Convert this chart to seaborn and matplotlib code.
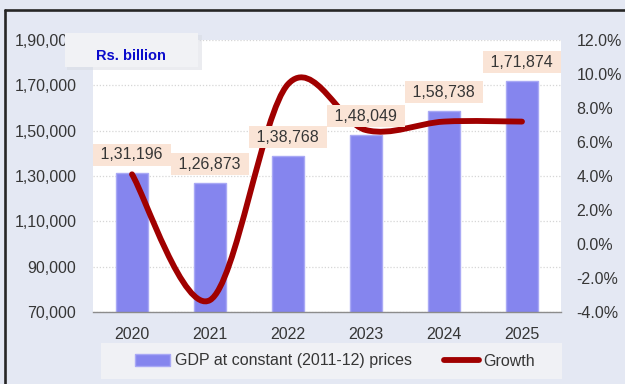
import numpy as np
import pandas as pd
import matplotlib
matplotlib.use("Agg")
import matplotlib.pyplot as plt
from matplotlib.patches import Rectangle, Patch, PathPatch
from matplotlib.lines import Line2D
from matplotlib.path import Path
import seaborn as sns

# ---- data ----
years = ["2020", "2021", "2022", "2023", "2024", "2025"]
gdp = [131196, 126873, 138768, 148049, 158738, 171874]
growth = [4.1, -3.3, 9.4, 6.7, 7.2, 7.2]
left_ticks = [70000, 90000, 110000, 130000, 150000, 170000, 190000]
right_ticks = [-4, -2, 0, 2, 4, 6, 8, 10, 12]
bar_label = "GDP at constant (2011-12) prices"
line_label = "Growth"
unit_label = "Rs. billion"

BG = "#E4E8F3"
BAR = "#8585EE"
LINE = "#A00000"
LABEL_BOX = "#FAE4D6"
TXT = "#363636"

sns.set_theme(style="white")
plt.rcParams["font.family"] = ["Liberation Sans", "DejaVu Sans"]


def indian(n):
    s = str(int(n))
    if len(s) <= 3:
        return s
    last3, rest = s[-3:], s[:-3]
    groups = []
    while len(rest) > 2:
        groups.insert(0, rest[-2:])
        rest = rest[:-2]
    if rest:
        groups.insert(0, rest)
    return ",".join(groups + [last3])


df = pd.DataFrame({"year": years, "gdp": gdp, "growth": growth})

W, H = 625, 384
fig = plt.figure(figsize=(W / 100, H / 100), dpi=100)
fig.patch.set_facecolor(BG)

ax = fig.add_axes([93 / W, 1 - 312 / H, 468 / W, 272 / H])
ax.set_facecolor("white")
sns.barplot(data=df, x="year", y="gdp", ax=ax, color=BAR, saturation=1,
            width=0.41, edgecolor="#A9A9F5", linewidth=1.0, zorder=2)
ax.set_xlim(-0.5, len(years) - 0.5)
ax.set_ylim(left_ticks[0], left_ticks[-1])
ax.set_yticks(left_ticks)
ax.set_yticklabels([indian(v) for v in left_ticks])
ax.set_xlabel("")
ax.set_ylabel("")
ax.yaxis.grid(True, linestyle=(0, (1, 1.5)), color="#d6d6d6", linewidth=0.9)
ax.xaxis.grid(False)
ax.set_axisbelow(True)
for s in ["left", "right", "top"]:
    ax.spines[s].set_visible(False)
ax.spines["bottom"].set_color("#8c8c8c")
ax.spines["bottom"].set_linewidth(1.0)
ax.tick_params(axis="y", length=0, pad=12, labelsize=11.5, labelcolor=TXT)
ax.tick_params(axis="x", which="major", length=0, pad=11, labelsize=11.5, labelcolor=TXT)
ax.set_xticks(np.arange(-0.5, len(years), 1.0), minor=True)
ax.tick_params(axis="x", which="minor", length=4, width=1, color="#8c8c8c", direction="out")

# growth axis
ax2 = ax.twinx()
ax2.set_ylim(right_ticks[0], right_ticks[-1])
ax2.set_yticks(right_ticks)
ax2.set_yticklabels([f"{v:.1f}%" for v in right_ticks])
for s in ["left", "right", "top", "bottom"]:
    ax2.spines[s].set_visible(False)
ax2.tick_params(axis="y", length=0, pad=11, labelsize=11.5, labelcolor=TXT)
ax2.grid(False)

# smooth line (Catmull-Rom as cubic Bezier)
xs = np.arange(len(growth), dtype=float)
ys = np.array(growth, dtype=float)
P = np.column_stack([xs, ys])
Pext = np.vstack([P[0], P, P[-1]])
verts = [tuple(P[0])]
codes = [Path.MOVETO]
for i in range(len(P) - 1):
    p0, p1, p2, p3 = Pext[i], Pext[i + 1], Pext[i + 2], Pext[i + 3]
    c1 = p1 + (p2 - p0) / 6.0
    c2 = p2 - (p3 - p1) / 6.0
    verts += [tuple(c1), tuple(c2), tuple(p2)]
    codes += [Path.CURVE4] * 3
patch = PathPatch(Path(verts, codes), facecolor="none", edgecolor=LINE,
                  linewidth=4.2, capstyle="round", joinstyle="round", zorder=3)
ax2.add_patch(patch)

# data labels (on top of line)
for i, v in enumerate(gdp):
    ax2.annotate(" " + indian(v) + " ", xy=(i, v), xycoords=ax.transData,
                 xytext=(0, 13.5), textcoords="offset points",
                 ha="center", va="center", fontsize=11.5, color=TXT,
                 bbox=dict(boxstyle="square,pad=0.22", fc=LABEL_BOX, ec="none"),
                 zorder=6)

# unit box with faint shadow
fig.patches.append(Rectangle((67 / W, 1 - 70 / H), 135 / W, 35 / H, transform=fig.transFigure,
                             fc="#D8DBE3", ec="none", alpha=0.5, zorder=2))
fig.patches.append(Rectangle((65 / W, 1 - 67 / H), 133 / W, 34 / H, transform=fig.transFigure,
                             fc="#F1F2F5", ec="none", zorder=2.5))
fig.text(131 / W, 1 - 60 / H, unit_label, color="#0A0ACC", fontweight="bold",
         fontsize=10.5, ha="center", va="baseline", zorder=4)

# legend box
fig.patches.append(Rectangle((101 / W, 1 - 379 / H), 461 / W, 36 / H, transform=fig.transFigure,
                             fc="#F0F1F5", ec="none", zorder=1))
handles = [Patch(facecolor=BAR, edgecolor="#A9A9F5", label=bar_label),
           Line2D([0], [0], color=LINE, lw=4.2, solid_capstyle="round", label=line_label)]
leg = fig.legend(handles=handles, loc="center", bbox_to_anchor=(335 / W, 1 - 361 / H),
                 ncol=2, frameon=False, fontsize=11.5, handlelength=2.2,
                 handletextpad=0.3, columnspacing=2.0, labelcolor=TXT)
leg.set_zorder(5)

# frame lines
fig.add_artist(Line2D([5 / W, 5 / W], [0, 1 - 10 / H], transform=fig.transFigure,
                      color="#262626", lw=1.9))
fig.add_artist(Line2D([5 / W, 1], [1 - 10 / H, 1 - 10 / H], transform=fig.transFigure,
                      color="#262626", lw=1.9))

fig.savefig("out.png", dpi=100, facecolor=BG)
